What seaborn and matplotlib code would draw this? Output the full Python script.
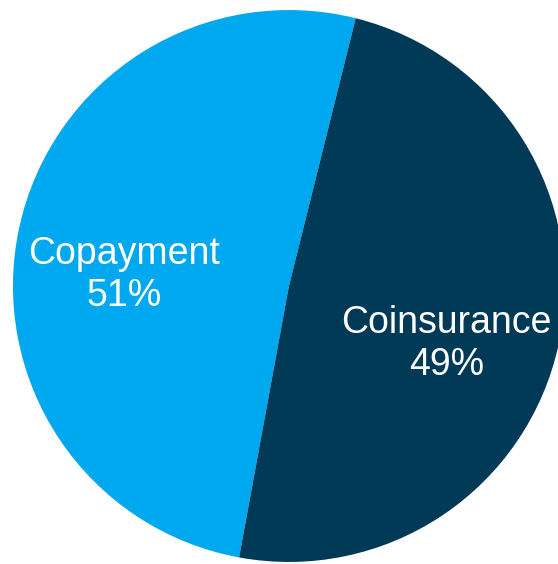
import matplotlib
matplotlib.use("Agg")
import matplotlib.pyplot as plt
import seaborn as sns

# Cost-sharing type shares (percent)
categories = ["Copayment", "Coinsurance"]
shares = [51, 49]
colors = ["#00A8F0", "#003A57"]

sns.set_theme(style="white")
plt.rcParams["font.family"] = ["Liberation Sans", "DejaVu Sans"]

fig = plt.figure(figsize=(5.58, 5.64), dpi=100)
ax = fig.add_axes([0, 0, 1, 1])

ax.pie(shares, colors=colors, startangle=76, counterclock=True,
       radius=1.0, center=(0, 0), wedgeprops=dict(linewidth=0))

# label placement in data units (baseline of the percentage line)
label_pos = {"Copayment": (-0.598, -0.072), "Coinsurance": (0.572, -0.322)}
for name, val in zip(categories, shares):
    x, y = label_pos[name]
    ax.text(x, y, f"{name}\n{val}%", ha="center", va="baseline",
            multialignment="center", color="white", fontsize=27,
            linespacing=1.2)

ax.set_xlim(-1.047, 0.975)
ax.set_ylim(-1.007, 1.036)
ax.set_aspect("equal")
ax.axis("off")

fig.savefig("out.png", dpi=100, facecolor="white")
